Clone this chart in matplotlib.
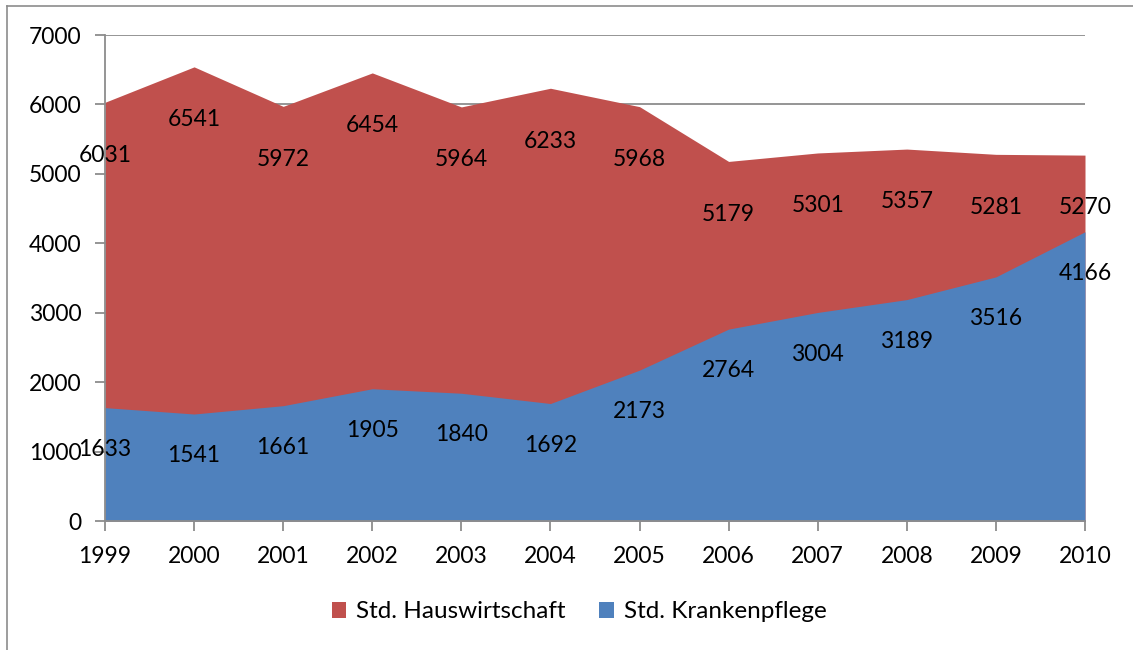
import matplotlib
matplotlib.use("Agg")
import matplotlib.pyplot as plt
from matplotlib.patches import Patch
from matplotlib.lines import Line2D

years = ["1999", "2000", "2001", "2002", "2003", "2004", "2005", "2006", "2007", "2008", "2009", "2010"]
hauswirtschaft = [6031, 6541, 5972, 6454, 5964, 6233, 5968, 5179, 5301, 5357, 5281, 5270]
krankenpflege = [1633, 1541, 1661, 1905, 1840, 1692, 2173, 2764, 3004, 3189, 3516, 4166]
series_names = ["Std. Hauswirtschaft", "Std. Krankenpflege"]

RED = "#C0504D"
BLUE = "#4F81BD"
GRAY = "#8C8C8C"

plt.rcParams['font.family'] = ['Lato', 'DejaVu Sans']
FS = 16.5

fig = plt.figure(figsize=(11.33, 6.5), dpi=100)
ax = fig.add_axes([105/1133, 1-521/650, (1085-105)/1133, (521-35)/650])

x = list(range(len(years)))
ax.fill_between(x, 0, hauswirtschaft, color=RED, linewidth=0, zorder=2)
ax.fill_between(x, 0, krankenpflege, color=BLUE, linewidth=0, zorder=3)

for xi, v in zip(x, hauswirtschaft):
    ax.annotate(str(v), (xi, v), xytext=(0, -38), textcoords="offset points",
                ha="center", va="center", fontsize=FS, color="black", zorder=5)
for xi, v in zip(x, krankenpflege):
    ax.annotate(str(v), (xi, v), xytext=(0, -30), textcoords="offset points",
                ha="center", va="center", fontsize=FS, color="black", zorder=5)

ax.set_xlim(0, len(years) - 1)
ax.set_ylim(0, 7000)
ax.set_yticks(range(0, 7001, 1000))
ax.set_xticks(x)
ax.set_xticklabels(years)
ax.yaxis.grid(True, color=GRAY, linewidth=1.3, zorder=1)
ax.set_axisbelow(True)
for s in ["top", "right"]:
    ax.spines[s].set_visible(False)
for s in ["left", "bottom"]:
    ax.spines[s].set_color(GRAY)
    ax.spines[s].set_linewidth(1.3)
    ax.spines[s].set_zorder(4)
ax.tick_params(axis="both", direction="out", length=7, width=1.3, color=GRAY,
               labelsize=FS, labelcolor="black")
ax.tick_params(axis="y", pad=10)
ax.tick_params(axis="x", pad=11)

handles = [Patch(facecolor=RED, edgecolor="none"), Patch(facecolor=BLUE, edgecolor="none")]
fig.legend(handles, series_names, loc="center", bbox_to_anchor=(579/1133, 1-612/650),
           ncol=2, frameon=False, fontsize=17.5, handlelength=0.6, handleheight=0.6,
           handletextpad=0.4, columnspacing=1.4)

# outer chart border (visible on left and top)
fig.add_artist(Line2D([7/1133, 7/1133], [0, 1-6/650], transform=fig.transFigure, color=GRAY, linewidth=1.2))
fig.add_artist(Line2D([7/1133, 1], [1-6/650, 1-6/650], transform=fig.transFigure, color=GRAY, linewidth=1.2))

fig.savefig("out.png", dpi=100, facecolor="white")
